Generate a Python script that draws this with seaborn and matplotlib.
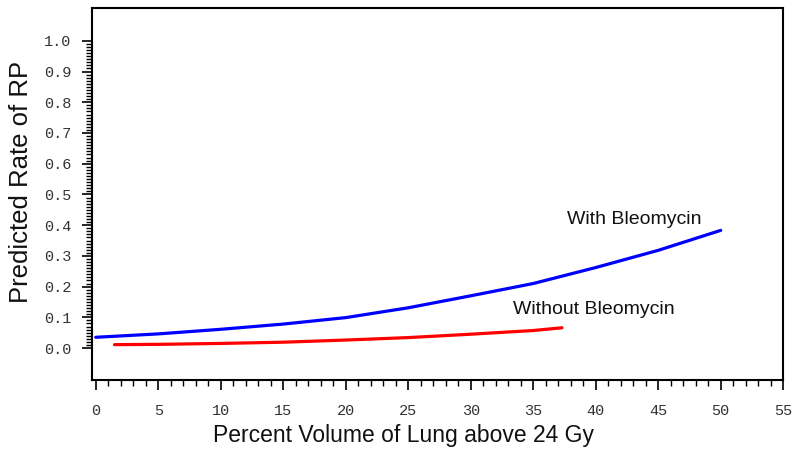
import matplotlib
matplotlib.use("Agg")
import matplotlib.pyplot as plt
import matplotlib.ticker as ticker
import seaborn as sns
import pandas as pd

#%% Data
vol_bleo = [0, 5, 10, 15, 20, 25, 30, 35, 40, 45, 50]
rate_bleo = [0.035, 0.046, 0.061, 0.078, 0.099, 0.131, 0.170, 0.210, 0.262, 0.318, 0.383]

vol_nobleo = [1.5, 5, 10, 15, 20, 25, 30, 35, 37.3]
rate_nobleo = [0.011, 0.012, 0.015, 0.019, 0.026, 0.034, 0.045, 0.057, 0.066]

y_ticks = [0.0, 0.1, 0.2, 0.3, 0.4, 0.5, 0.6, 0.7, 0.8, 0.9, 1.0]
x_ticks = [0, 5, 10, 15, 20, 25, 30, 35, 40, 45, 50, 55]

df_bleo = pd.DataFrame({'vol': vol_bleo, 'rate': rate_bleo})
df_nobleo = pd.DataFrame({'vol': vol_nobleo, 'rate': rate_nobleo})

#%% Plot
sns.set_style("ticks")
plt.rcParams['font.family'] = ['Liberation Sans', 'DejaVu Sans']

fig = plt.figure(figsize=(8, 4.5), dpi=100)
ax = fig.add_axes([0.115, 0.1556, 0.864, 0.8267])

sns.lineplot(data=df_bleo, x='vol', y='rate', color='#0000ff', linewidth=2.3, ax=ax)
sns.lineplot(data=df_nobleo, x='vol', y='rate', color='#ff0000', linewidth=2.3, ax=ax)

ax.text(37.7, 0.417, 'With Bleomycin', fontsize=14, va='center', ha='left', color='#111111')
ax.text(33.4, 0.124, 'Without Bleomycin', fontsize=14, va='center', ha='left', color='#111111')

ax.set_xlim(-0.3, 55)
ax.set_ylim(-0.104, 1.107)
ax.set_xticks(x_ticks)
ax.set_yticks(y_ticks)
ax.xaxis.set_minor_locator(ticker.MultipleLocator(1))
# only minor ticks inside 0..1 on y, like the original
ax.yaxis.set_minor_locator(ticker.FixedLocator([i / 100 for i in range(0, 101)]))
ax.yaxis.set_major_formatter(ticker.FormatStrFormatter('%.1f'))

for lab in ax.get_xticklabels() + ax.get_yticklabels():
    lab.set_family(['Liberation Mono', 'DejaVu Sans Mono'])
    lab.set_fontsize(11)
    lab.set_color('#333333')

ax.tick_params(axis='both', which='major', length=7, width=1.2, color='black', direction='out')
ax.tick_params(axis='both', which='minor', length=4, width=1.0, color='black', direction='out')
ax.tick_params(axis='x', which='major', pad=10)
ax.tick_params(axis='y', which='major', pad=8)

for s in ax.spines.values():
    s.set_visible(True)
    s.set_color('black')
    s.set_linewidth(1.5)

ax.set_xlabel('Percent Volume of Lung above 24 Gy', fontsize=16.5, color='#111111')
ax.set_ylabel('Predicted Rate of RP', fontsize=18.5, color='#111111')
ax.xaxis.set_label_coords(0.45, -0.118)
ax.yaxis.set_label_coords(-0.085, 0.532)

fig.savefig('out.png', dpi=100)
